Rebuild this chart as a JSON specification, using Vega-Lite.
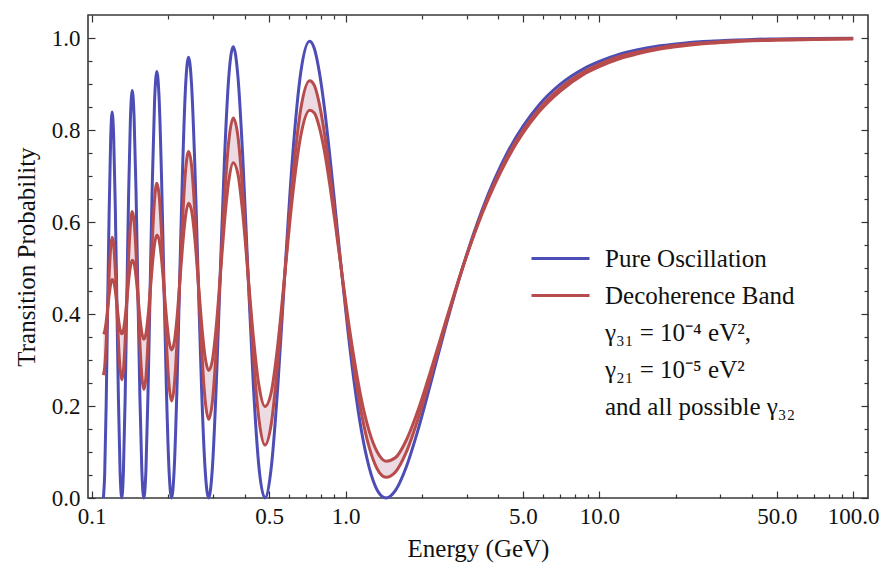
{
  "$schema": "https://vega.github.io/schema/vega-lite/v6.json",
  "width": 780,
  "height": 483,
  "autosize": {"type": "none"},
  "padding": {"left": 88, "top": 15, "right": 18, "bottom": 74},
  "background": "white",
  "config": {
    "view": {"stroke": "#3a3a3a", "strokeWidth": 1.6},
    "font": "Liberation Serif",
    "legend": {"labelFont": "Liberation Serif", "titleFont": "Liberation Serif"},
    "axis": {
      "labelFont": "Liberation Serif",
      "titleFont": "Liberation Serif",
      "titleFontWeight": "normal",
      "labelColor": "#111111",
      "titleColor": "#111111",
      "tickColor": "#333333",
      "tickWidth": 1.2,
      "domain": false,
      "grid": false,
      "labelFlush": false,
      "labelOverlap": false,
      "labelBound": false
    }
  },
  "data": {
    "values": [
      {"E": 0.1111, "p": 0, "a": 0.267, "b": 0.356},
      {"E": 0.1125, "p": 0.055, "a": 0.285, "b": 0.363},
      {"E": 0.114, "p": 0.205, "a": 0.337, "b": 0.383},
      {"E": 0.1155, "p": 0.413, "a": 0.41, "b": 0.411},
      {"E": 0.1171, "p": 0.622, "a": 0.485, "b": 0.441},
      {"E": 0.1187, "p": 0.778, "a": 0.543, "b": 0.465},
      {"E": 0.1203, "p": 0.839, "a": 0.567, "b": 0.475},
      {"E": 0.122, "p": 0.786, "a": 0.551, "b": 0.471},
      {"E": 0.1238, "p": 0.635, "a": 0.497, "b": 0.451},
      {"E": 0.1256, "p": 0.425, "a": 0.42, "b": 0.421},
      {"E": 0.1274, "p": 0.214, "a": 0.34, "b": 0.39},
      {"E": 0.1293, "p": 0.058, "a": 0.28, "b": 0.366},
      {"E": 0.1313, "p": 0, "a": 0.257, "b": 0.357},
      {"E": 0.1333, "p": 0.058, "a": 0.278, "b": 0.365},
      {"E": 0.1354, "p": 0.218, "a": 0.341, "b": 0.392},
      {"E": 0.1375, "p": 0.437, "a": 0.43, "b": 0.43},
      {"E": 0.1397, "p": 0.658, "a": 0.522, "b": 0.471},
      {"E": 0.142, "p": 0.823, "a": 0.593, "b": 0.503},
      {"E": 0.1444, "p": 0.886, "a": 0.623, "b": 0.517},
      {"E": 0.1468, "p": 0.83, "a": 0.602, "b": 0.51},
      {"E": 0.1494, "p": 0.67, "a": 0.535, "b": 0.482},
      {"E": 0.152, "p": 0.448, "a": 0.439, "b": 0.439},
      {"E": 0.1547, "p": 0.225, "a": 0.34, "b": 0.394},
      {"E": 0.1575, "p": 0.061, "a": 0.265, "b": 0.359},
      {"E": 0.1604, "p": 0, "a": 0.236, "b": 0.345},
      {"E": 0.1635, "p": 0.061, "a": 0.263, "b": 0.357},
      {"E": 0.1666, "p": 0.228, "a": 0.34, "b": 0.394},
      {"E": 0.1699, "p": 0.459, "a": 0.449, "b": 0.449},
      {"E": 0.1733, "p": 0.69, "a": 0.562, "b": 0.506},
      {"E": 0.1768, "p": 0.862, "a": 0.648, "b": 0.552},
      {"E": 0.1805, "p": 0.927, "a": 0.684, "b": 0.572},
      {"E": 0.1843, "p": 0.868, "a": 0.658, "b": 0.561},
      {"E": 0.1883, "p": 0.7, "a": 0.577, "b": 0.52},
      {"E": 0.1925, "p": 0.468, "a": 0.459, "b": 0.458},
      {"E": 0.1969, "p": 0.235, "a": 0.338, "b": 0.393},
      {"E": 0.2015, "p": 0.063, "a": 0.247, "b": 0.342},
      {"E": 0.2063, "p": 0, "a": 0.211, "b": 0.322},
      {"E": 0.2113, "p": 0.063, "a": 0.242, "b": 0.338},
      {"E": 0.2166, "p": 0.237, "a": 0.336, "b": 0.39},
      {"E": 0.2221, "p": 0.476, "a": 0.469, "b": 0.467},
      {"E": 0.228, "p": 0.715, "a": 0.606, "b": 0.548},
      {"E": 0.2341, "p": 0.892, "a": 0.71, "b": 0.612},
      {"E": 0.2406, "p": 0.958, "a": 0.753, "b": 0.641},
      {"E": 0.2475, "p": 0.896, "a": 0.721, "b": 0.624},
      {"E": 0.2548, "p": 0.722, "a": 0.62, "b": 0.564},
      {"E": 0.2625, "p": 0.482, "a": 0.476, "b": 0.475},
      {"E": 0.2707, "p": 0.242, "a": 0.328, "b": 0.381},
      {"E": 0.2795, "p": 0.065, "a": 0.215, "b": 0.307},
      {"E": 0.2888, "p": 0, "a": 0.171, "b": 0.277},
      {"E": 0.2987, "p": 0.065, "a": 0.209, "b": 0.299},
      {"E": 0.3094, "p": 0.244, "a": 0.322, "b": 0.373},
      {"E": 0.3209, "p": 0.488, "a": 0.483, "b": 0.482},
      {"E": 0.3332, "p": 0.733, "a": 0.649, "b": 0.598},
      {"E": 0.3465, "p": 0.914, "a": 0.775, "b": 0.689},
      {"E": 0.361, "p": 0.981, "a": 0.826, "b": 0.729},
      {"E": 0.3767, "p": 0.916, "a": 0.786, "b": 0.704},
      {"E": 0.3938, "p": 0.738, "a": 0.663, "b": 0.617},
      {"E": 0.4125, "p": 0.492, "a": 0.488, "b": 0.488},
      {"E": 0.4332, "p": 0.246, "a": 0.307, "b": 0.351},
      {"E": 0.456, "p": 0.066, "a": 0.17, "b": 0.244},
      {"E": 0.4813, "p": 0, "a": 0.115, "b": 0.199},
      {"E": 0.5096, "p": 0.066, "a": 0.161, "b": 0.23},
      {"E": 0.5415, "p": 0.247, "a": 0.298, "b": 0.336},
      {"E": 0.5775, "p": 0.495, "a": 0.492, "b": 0.492},
      {"E": 0.6188, "p": 0.744, "a": 0.693, "b": 0.658},
      {"E": 0.6664, "p": 0.926, "a": 0.846, "b": 0.788},
      {"E": 0.7219, "p": 0.993, "a": 0.907, "b": 0.843},
      {"E": 0.7533, "p": 0.977, "a": 0.897, "b": 0.837},
      {"E": 0.7876, "p": 0.927, "a": 0.858, "b": 0.807},
      {"E": 0.8251, "p": 0.849, "a": 0.794, "b": 0.755},
      {"E": 0.8663, "p": 0.746, "a": 0.709, "b": 0.682},
      {"E": 0.9119, "p": 0.626, "a": 0.607, "b": 0.594},
      {"E": 0.9626, "p": 0.498, "a": 0.496, "b": 0.497},
      {"E": 1.0192, "p": 0.369, "a": 0.383, "b": 0.396},
      {"E": 1.083, "p": 0.249, "a": 0.277, "b": 0.3},
      {"E": 1.155, "p": 0.146, "a": 0.184, "b": 0.214},
      {"E": 1.238, "p": 0.067, "a": 0.111, "b": 0.146},
      {"E": 1.333, "p": 0.017, "a": 0.063, "b": 0.1},
      {"E": 1.444, "p": 0, "a": 0.045, "b": 0.08},
      {"E": 1.575, "p": 0.017, "a": 0.057, "b": 0.088},
      {"E": 1.733, "p": 0.067, "a": 0.099, "b": 0.125},
      {"E": 1.925, "p": 0.146, "a": 0.17, "b": 0.189},
      {"E": 2.166, "p": 0.25, "a": 0.264, "b": 0.277},
      {"E": 2.475, "p": 0.371, "a": 0.377, "b": 0.382},
      {"E": 2.888, "p": 0.5, "a": 0.499, "b": 0.5},
      {"E": 3.465, "p": 0.629, "a": 0.624, "b": 0.62},
      {"E": 4.332, "p": 0.75, "a": 0.742, "b": 0.736},
      {"E": 5.775, "p": 0.854, "a": 0.845, "b": 0.839},
      {"E": 7, "p": 0.899, "a": 0.891, "b": 0.884},
      {"E": 8.663, "p": 0.933, "a": 0.926, "b": 0.921},
      {"E": 10, "p": 0.949, "a": 0.943, "b": 0.938},
      {"E": 12, "p": 0.965, "a": 0.96, "b": 0.955},
      {"E": 14, "p": 0.974, "a": 0.969, "b": 0.965},
      {"E": 17.33, "p": 0.983, "a": 0.979, "b": 0.976},
      {"E": 20, "p": 0.987, "a": 0.984, "b": 0.981},
      {"E": 25, "p": 0.992, "a": 0.989, "b": 0.987},
      {"E": 30, "p": 0.994, "a": 0.992, "b": 0.99},
      {"E": 40, "p": 0.997, "a": 0.995, "b": 0.994},
      {"E": 50, "p": 0.998, "a": 0.997, "b": 0.995},
      {"E": 70, "p": 0.999, "a": 0.998, "b": 0.997},
      {"E": 100, "p": 0.9995, "a": 0.999, "b": 0.998}
    ]
  },
  "resolve": {"axis": {"x": "independent", "y": "independent"}},
  "layer": [
    {
      "mark": {"type": "area", "interpolate": "monotone", "fill": "#ecdbe3", "opacity": 1},
      "encoding": {
        "x": {
          "field": "E", "type": "quantitative",
          "scale": {"type": "log", "domain": [0.09666, 114.4], "nice": false},
          "axis": {
            "orient": "bottom",
            "values": [0.1, 0.5, 1, 5, 10, 50, 100],
            "format": ".1f",
            "tickSize": -7,
            "labelPadding": 14,
            "labelFontSize": 23,
            "title": "Energy (GeV)",
            "titleFontSize": 25,
            "titlePadding": 8
          }
        },
        "y": {
          "field": "a", "type": "quantitative",
          "scale": {"domain": [0, 1.05], "nice": false, "zero": false},
          "axis": {
            "orient": "left",
            "values": [0, 0.2, 0.4, 0.6, 0.8, 1],
            "format": ".1f",
            "tickSize": -7,
            "labelPadding": 15,
            "labelFontSize": 23,
            "title": "Transition Probability",
            "titleFontSize": 25,
            "titlePadding": 12
          }
        },
        "y2": {"field": "b"}
      }
    },
    {
      "mark": {"type": "line", "interpolate": "monotone", "strokeWidth": 3},
      "encoding": {
        "x": {
          "field": "E", "type": "quantitative",
          "scale": {"type": "log", "domain": [0.09666, 114.4], "nice": false},
          "axis": {
            "orient": "bottom",
            "values": [0.2, 0.3, 0.4, 0.6, 0.7, 0.8, 0.9, 2, 3, 4, 6, 7, 8, 9, 20, 30, 40, 60, 70, 80, 90],
            "labels": false,
            "tickSize": -4,
            "title": null
          }
        },
        "y": {
          "field": "p", "type": "quantitative",
          "scale": {"domain": [0, 1.05], "nice": false, "zero": false},
          "axis": {
            "orient": "left",
            "values": [0.05, 0.1, 0.15, 0.25, 0.3, 0.35, 0.45, 0.5, 0.55, 0.65, 0.7, 0.75, 0.85, 0.9, 0.95],
            "labels": false,
            "tickSize": -4,
            "title": null
          }
        },
        "color": {
          "datum": "Pure Oscillation",
          "type": "nominal",
          "scale": {
            "domain": ["Pure Oscillation", "Decoherence Band", "γ₃₁ = 10⁻⁴ eV²,", "γ₂₁ = 10⁻⁵ eV²", "and all possible γ₃₂"],
            "range": ["#4d4db6", "#b84c4c", "rgba(0,0,0,0)", "rgba(0,0,0,0)", "rgba(0,0,0,0)"]
          },
          "legend": {
            "orient": "none",
            "legendX": 460,
            "legendY": 231,
            "title": null,
            "padding": 0,
            "symbolType": "M-2.9,0H2.9",
            "symbolSize": 400,
            "symbolStrokeWidth": 3,
            "labelFont": "Liberation Serif",
            "labelFontSize": 25,
            "labelColor": "#111111",
            "labelOffset": 32,
            "labelLimit": 0,
            "rowPadding": 11
          }
        }
      }
    },
    {
      "mark": {"type": "line", "interpolate": "monotone", "strokeWidth": 3},
      "encoding": {
        "x": {
          "field": "E", "type": "quantitative",
          "scale": {"type": "log", "domain": [0.09666, 114.4], "nice": false},
          "axis": {
            "orient": "top",
            "values": [0.1, 0.5, 1, 5, 10, 50, 100],
            "labels": false,
            "tickSize": -7,
            "title": null
          }
        },
        "y": {
          "field": "a", "type": "quantitative",
          "scale": {"domain": [0, 1.05], "nice": false, "zero": false},
          "axis": {
            "orient": "right",
            "values": [0, 0.2, 0.4, 0.6, 0.8, 1],
            "labels": false,
            "tickSize": -7,
            "title": null
          }
        },
        "color": {"datum": "Decoherence Band", "type": "nominal", "legend": null}
      }
    },
    {
      "mark": {"type": "line", "interpolate": "monotone", "strokeWidth": 3},
      "encoding": {
        "x": {
          "field": "E", "type": "quantitative",
          "scale": {"type": "log", "domain": [0.09666, 114.4], "nice": false},
          "axis": {
            "orient": "top",
            "values": [0.2, 0.3, 0.4, 0.6, 0.7, 0.8, 0.9, 2, 3, 4, 6, 7, 8, 9, 20, 30, 40, 60, 70, 80, 90],
            "labels": false,
            "tickSize": -4,
            "title": null
          }
        },
        "y": {
          "field": "b", "type": "quantitative",
          "scale": {"domain": [0, 1.05], "nice": false, "zero": false},
          "axis": {
            "orient": "right",
            "values": [0.05, 0.1, 0.15, 0.25, 0.3, 0.35, 0.45, 0.5, 0.55, 0.65, 0.7, 0.75, 0.85, 0.9, 0.95],
            "labels": false,
            "tickSize": -4,
            "title": null
          }
        },
        "color": {"datum": "Decoherence Band", "type": "nominal", "legend": null}
      }
    }
  ]
}
